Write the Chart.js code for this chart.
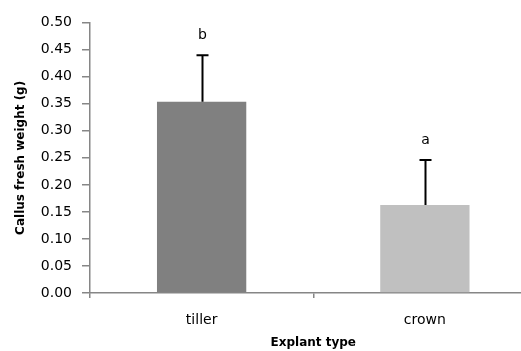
<!DOCTYPE html>
<html>
<head>
<meta charset="utf-8">
<script src="https://cdn.jsdelivr.net/npm/chart.js@4"></script>
<style>
html,body{margin:0;padding:0;background:#fff;overflow:hidden;}
#clip{width:521px;height:351px;overflow:hidden;position:relative;}
#c{display:block;}
</style>
</head>
<body>
<div id="clip"><canvas id="c" width="545" height="351"></canvas></div>
<script>
const categories = ["tiller", "crown"];
const means = [0.354, 0.163];
const errors = [0.086, 0.083];
const letters = ["b", "a"];
const barColors = ["#808080", "#c0c0c0"];
const yMin = 0, yMax = 0.5, yStep = 0.05;

const axisGray = "#868686";
const tickFont = {family: "DejaVu Sans", size: 14};
const titleFont = {family: "DejaVu Sans", size: 12, weight: "bold"};

const errorBarPlugin = {
  id: "errorBars",
  afterDatasetsDraw(chart) {
    const ctx = chart.ctx;
    const yScale = chart.scales.y;
    const meta = chart.getDatasetMeta(0);
    ctx.save();
    meta.data.forEach((bar, i) => {
      const yTop = yScale.getPixelForValue(means[i] + errors[i]);
      const yBase = yScale.getPixelForValue(means[i]);
      const x = Math.round(bar.x) + 0.5;
      ctx.strokeStyle = "#000";
      ctx.lineWidth = 2;
      ctx.beginPath();
      ctx.moveTo(x, yBase);
      ctx.lineTo(x, yTop);
      ctx.moveTo(x - 6, yTop);
      ctx.lineTo(x + 6, yTop);
      ctx.stroke();
      ctx.fillStyle = "#000";
      ctx.font = "14px 'DejaVu Sans'";
      ctx.textAlign = "center";
      ctx.textBaseline = "middle";
      ctx.fillText(letters[i], x, yTop - 20);
    });
    ctx.restore();
  }
};

new Chart(document.getElementById("c"), {
  type: "bar",
  data: {
    labels: categories,
    datasets: [{
      data: means,
      backgroundColor: barColors,
      borderWidth: 0,
      barPercentage: 0.4,
      categoryPercentage: 1.0
    }]
  },
  options: {
    responsive: false,
    animation: false,
    layout: {padding: {top: 22.7, right: 8.5, left: 0, bottom: 0}},
    plugins: {legend: {display: false}, tooltip: {enabled: false}},
    scales: {
      x: {
        afterFit(s) { s.height = 58; },
        grid: {display: true, drawOnChartArea: false, drawTicks: true, tickLength: 5, color: axisGray, lineWidth: 1.5, offset: true},
        border: {display: true, color: axisGray, width: 1.5},
        ticks: {color: "#000", font: tickFont, padding: 14},
        title: {display: true, text: "Explant type", color: "#000", font: titleFont, padding: {top: 0, bottom: 1}}
      },
      y: {
        min: yMin, max: yMax,
        afterFit(s) { s.width = 90; },
        grid: {display: true, drawOnChartArea: false, drawTicks: true, tickLength: 8, color: axisGray, lineWidth: 1.5},
        border: {display: true, color: axisGray, width: 1.5},
        ticks: {stepSize: yStep, color: "#000", font: tickFont, padding: 10,
          callback: v => Number(v).toFixed(2)},
        title: {display: true, text: "Callus fresh weight (g)", color: "#000", font: titleFont, padding: {top: 14, bottom: 0}}
      }
    }
  },
  plugins: [errorBarPlugin]
});
</script>
</body>
</html>
